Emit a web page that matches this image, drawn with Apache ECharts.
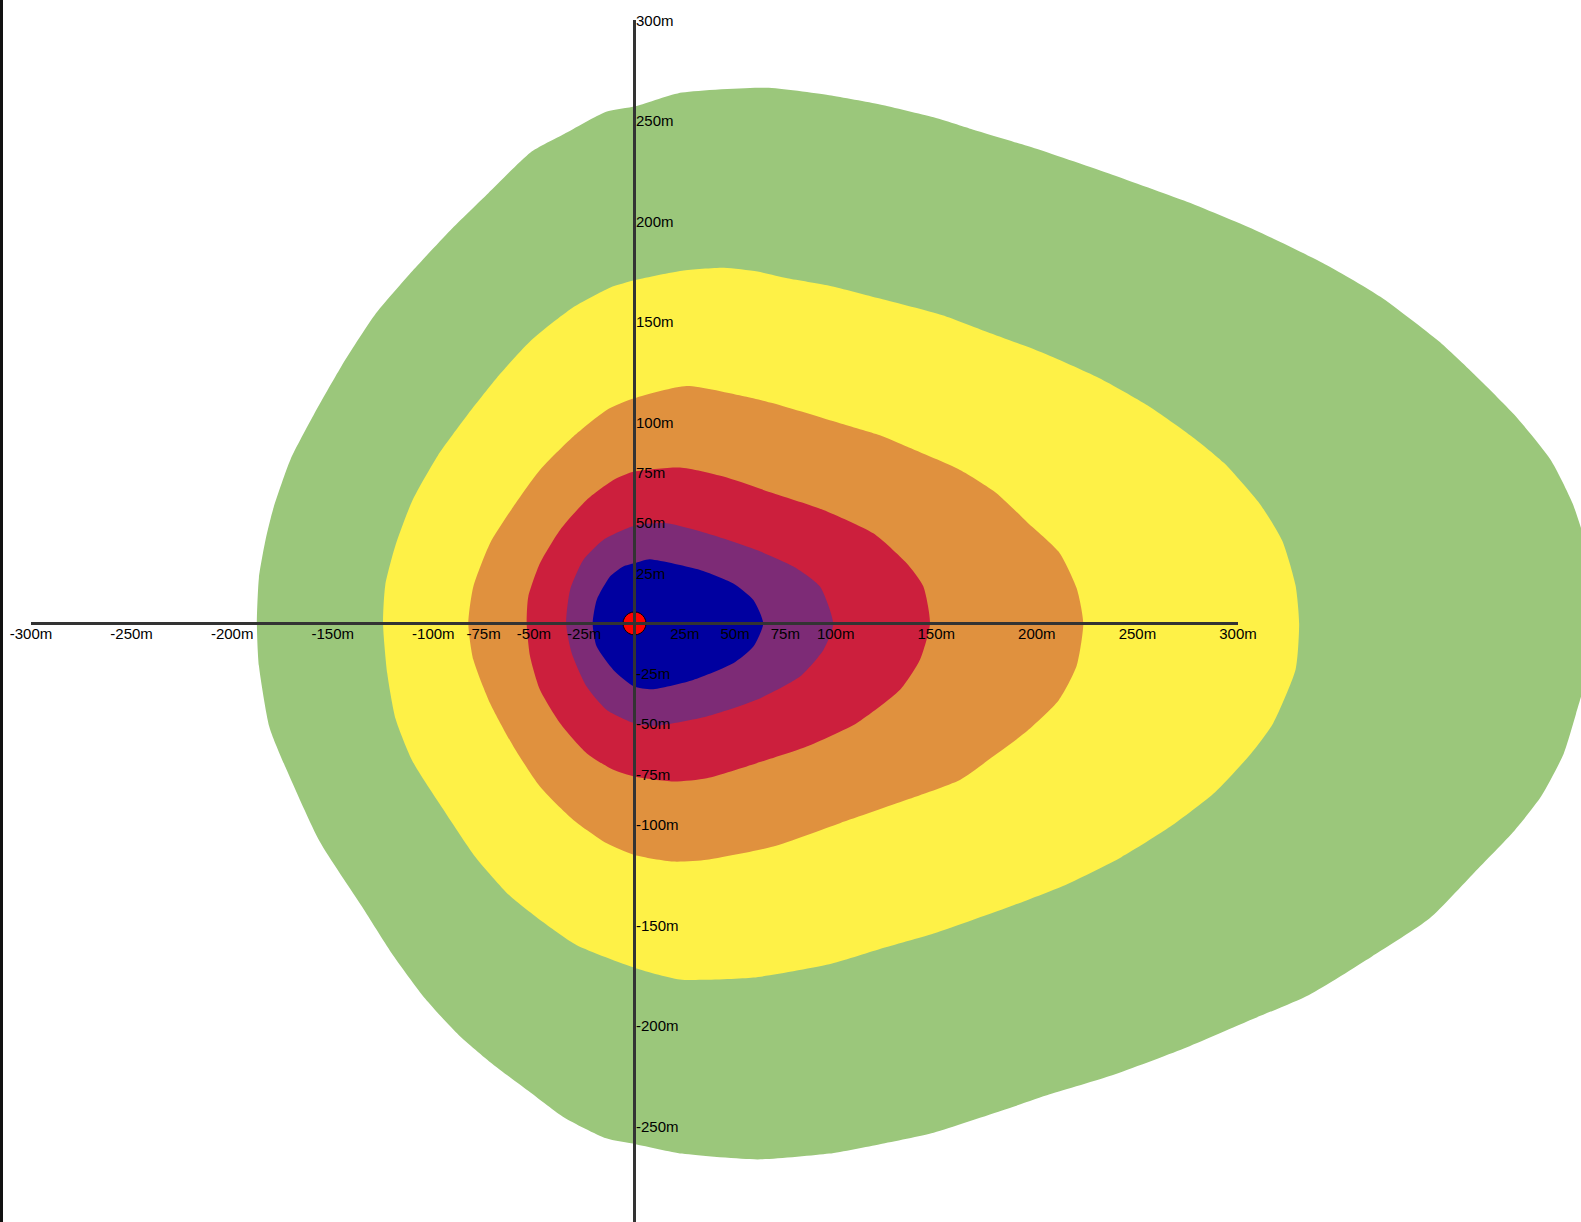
<!DOCTYPE html>
<html>
<head>
<meta charset="utf-8">
<script src="https://cdn.jsdelivr.net/npm/echarts@6/dist/echarts.min.js"></script>
<style>
html,body{margin:0;padding:0;background:#fff;}
#chart{width:1581px;height:1222px;}
</style>
</head>
<body>
<div id="chart"></div>
<script>
// Axis ranges and tick labels (metres)
var xRange = [-300, 300];
var yRange = [-297.6, 300];
var xTickValues = [-300,-250,-200,-150,-100,-75,-50,-25,25,50,75,100,150,200,250,300];
var yTickValues = [300,250,200,150,100,75,50,25,-25,-50,-75,-100,-150,-200,-250];

// Zone outlines, [x m, y m]
var greenZone = [[-187.7,0],[-186.7,22.7],[-183.5,41.1],[-179.4,57.6],[-171.0,81.5],[-159.5,103.6],[-145.9,127.5],[-129.2,153.2],[-110.3,175.3],[-91.5,195.5],[-72.7,213.9],[-51.7,234.1],[-35.0,243.3],[-14.1,254.4],[0.6,257.1],[23.6,263.9],[65.4,266.3],[96.8,262.6],[122.0,258.0],[148.7,251.6],[166.4,246.1],[199.8,236.0],[237.5,223.1],[273.1,210.2],[308.6,195.5],[344.2,178.1],[370.8,162.4],[399.7,140.4],[417.5,123.8],[437.5,103.6],[455.3,81.5],[466.4,59.5],[474,35],[478,5],[475,-20],[468,-45],[461.9,-64.8],[450.8,-85.8],[437.5,-102.9],[417.5,-123.8],[395.3,-146.6],[366.4,-165.7],[335.3,-184.7],[304.2,-198.0],[273.1,-211.3],[237.5,-224.6],[206.4,-234.1],[184.2,-241.7],[148.7,-253.2],[122.0,-258.9],[96.8,-263.6],[61.2,-266.5],[23.6,-263.6],[0.6,-258.9],[-14.1,-256.0],[-35.0,-245.6],[-51.7,-233.2],[-70.6,-219.0],[-87.3,-204.7],[-104.0,-186.6],[-120.8,-163.8],[-135.4,-140.9],[-156.4,-108.6],[-173.1,-72.4],[-181.5,-51.5],[-186.7,-21.1]];
var yellowZone = [[-125.0,0],[-123.9,19.0],[-118.7,39.2],[-110.3,61.3],[-97.8,83.4],[-83.1,103.6],[-68.5,122.0],[-51.7,140.4],[-30.8,156.9],[-12.0,167.0],[0.6,170.7],[23.6,175.3],[44.5,176.8],[61.2,174.9],[75.9,171.6],[96.8,167.9],[122.0,161.5],[153.1,153.2],[175.3,144.9],[202.0,134.9],[230.9,122.0],[255.3,108.2],[277.5,92.6],[293.1,79.7],[310.8,59.5],[322.0,41.1],[328.6,19.0],[330.4,0],[328.6,-23.0],[317.5,-49.6],[306.4,-64.8],[288.6,-83.9],[266.4,-101.0],[242.0,-116.2],[215.3,-129.5],[188.7,-140.0],[148.7,-154.2],[122.0,-161.9],[96.8,-169.5],[59.1,-176.1],[23.6,-177.1],[0.6,-171.4],[-28.7,-160.0],[-45.5,-148.5],[-62.2,-135.2],[-79.0,-116.2],[-95.7,-91.5],[-110.3,-68.6],[-118.7,-47.7],[-122.9,-24.9]];
var orangeZone = [[-82.6,0],[-80.1,18.3],[-71.8,39.9],[-60.2,58.1],[-47.0,76.3],[-30.4,92.9],[-13.8,106.1],[-0.1,111.9],[25.9,118.0],[54.9,112.8],[69.0,109.4],[102.1,99.5],[122.0,93.5],[135.3,87.9],[161.8,76.3],[179.8,64.9],[195.3,50.2],[210.9,35.6],[219.8,17.5],[223.1,0],[219.8,-21.1],[210.9,-38.2],[195.3,-53.4],[177.5,-66.7],[161.8,-77.8],[135.3,-87.7],[102.1,-99.3],[69.0,-110.9],[35.9,-117.5],[19.3,-118.4],[-0.1,-115.1],[-13.8,-109.3],[-30.4,-97.7],[-47.0,-81.1],[-60.2,-61.2],[-71.8,-39.7],[-80.1,-18.1]];
var redZone = [[-53.6,0],[-52.8,13.3],[-47.0,29.9],[-37.0,46.5],[-23.8,61.4],[-10.5,71.3],[-0.1,75.5],[22.6,77.5],[44.2,73.0],[69.0,64.7],[93.9,56.4],[118.7,44.8],[135.3,29.9],[143.6,18.3],[146.9,0],[141.9,-18.1],[132.0,-33.0],[110.4,-49.6],[85.6,-61.2],[60.7,-69.5],[35.9,-77.0],[19.3,-78.6],[-0.1,-76.1],[-10.5,-72.8],[-23.8,-64.5],[-37.0,-49.6],[-47.0,-33.0],[-51.9,-16.5]];
var purpleZone = [[-34.0,0],[-32.0,16.7],[-25.4,31.6],[-15.5,41.5],[-0.1,48.5],[16.0,49.8],[35.9,44.8],[60.7,36.5],[79.0,28.3],[92.2,18.3],[98.8,0],[93.9,-13.2],[82.3,-26.4],[60.7,-38.0],[35.9,-46.3],[11.0,-50.9],[-0.1,-49.6],[-13.8,-43.0],[-23.8,-31.4],[-31.2,-14.8]];
var blueZone = [[-20.8,0],[-18.8,11.7],[-12.2,23.3],[-5.6,28.3],[-0.1,29.9],[7.7,31.9],[32.6,26.6],[49.1,19.9],[59.1,11.7],[64.0,0],[59.1,-11.5],[49.1,-19.8],[29.2,-28.1],[9.4,-32.7],[-0.1,-31.4],[-10.5,-23.1],[-18.8,-11.5]];
var sourcePoint = [[0,0]];

var zones = [
  {name:'green', points: greenZone, color:'#9BC77B'},
  {name:'yellow', points: yellowZone, color:'#FEF147'},
  {name:'orange', points: orangeZone, color:'#E0913E'},
  {name:'red', points: redZone, color:'#CC1F3D'},
  {name:'purple', points: purpleZone, color:'#7D2B76'},
  {name:'blue', points: blueZone, color:'#0000A0'}
];

var FONT = "15px 'Liberation Sans', Arial, Helvetica, sans-serif";
var AXIS_COLOR = '#333';

var series = zones.map(function (z, i) {
  return {
    type: 'custom',
    name: z.name,
    coordinateSystem: 'cartesian2d',
    clip: false,
    silent: true,
    z: 2 + i * 0.01,
    data: z.points,
    renderItem: function (params, api) {
      if (params.dataIndex !== 0) return null;
      var pts = z.points.map(function (p) { return api.coord(p); });
      return {
        type: 'polygon',
        shape: { points: pts, smooth: 0.2 },
        style: { fill: z.color, stroke: null }
      };
    }
  };
});

// source marker
series.push({
  type: 'scatter',
  name: 'source',
  data: sourcePoint,
  symbol: 'circle',
  symbolSize: 23,
  z: 5,
  silent: true,
  itemStyle: { color: '#FF0000', borderColor: '#000', borderWidth: 1, opacity: 1 }
});

// axis lines (drawn through the scales)
series.push({
  type: 'line', name: 'xAxisLine',
  data: [[xRange[0], 0], [xRange[1], 0]],
  symbol: 'none', z: 10, silent: true,
  lineStyle: { color: AXIS_COLOR, width: 3 }
});
series.push({
  type: 'line', name: 'yAxisLine',
  data: [[0, yRange[1]], [0, yRange[0]]],
  symbol: 'none', z: 10, silent: true,
  lineStyle: { color: AXIS_COLOR, width: 3 }
});

// tick labels
series.push({
  type: 'custom', name: 'xTickLabels', coordinateSystem: 'cartesian2d',
  clip: false, silent: true, z: 11,
  data: xTickValues.map(function (v) { return [v, 0]; }),
  renderItem: function (params, api) {
    var pt = api.coord([api.value(0), api.value(1)]);
    return {
      type: 'text', x: pt[0], y: pt[1] + 10,
      style: { text: api.value(0) + 'm', font: FONT, fill: '#000', align: 'center', verticalAlign: 'middle' }
    };
  }
});
series.push({
  type: 'custom', name: 'yTickLabels', coordinateSystem: 'cartesian2d',
  clip: false, silent: true, z: 11,
  data: yTickValues.map(function (v) { return [0, v]; }),
  renderItem: function (params, api) {
    var pt = api.coord([api.value(0), api.value(1)]);
    return {
      type: 'text', x: pt[0] + 1.5, y: pt[1],
      style: { text: api.value(1) + 'm', font: FONT, fill: '#000', align: 'left', verticalAlign: 'middle' }
    };
  }
});

var chart = echarts.init(document.getElementById('chart'), null, { renderer: 'svg' });
chart.setOption({
  backgroundColor: '#ffffff',
  animation: false,
  grid: { left: 31, top: 20, width: 1207, height: 1202, containLabel: false, outerBoundsMode: 'none' },
  xAxis: { type: 'value', min: xRange[0], max: xRange[1], show: false },
  yAxis: { type: 'value', min: yRange[0], max: yRange[1], show: false },
  graphic: [{
    type: 'rect', left: 0, top: 0, z: 100,
    shape: { width: 3, height: 1222 },
    style: { fill: '#111' }
  }],
  series: series
});
</script>
</body>
</html>
